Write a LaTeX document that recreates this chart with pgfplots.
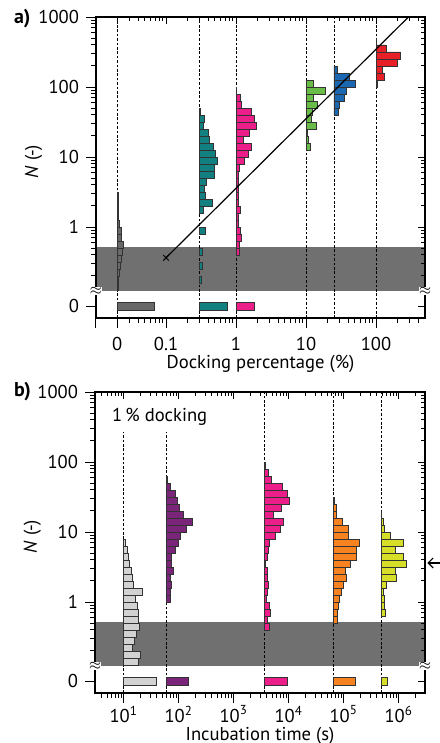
\documentclass[border=0pt]{standalone}
\usepackage{pgfplots}
\pgfplotsset{compat=1.18}
\usepackage{pgfplotstable}
\usepackage{fontspec}
\setmainfont{PT Sans}
\usetikzlibrary{arrows.meta}

\definecolor{bandgray}{RGB}{112,112,112}
\definecolor{cgray}{RGB}{105,105,105}
\definecolor{cteal}{RGB}{18,128,128}
\definecolor{cpink}{RGB}{236,30,138}
\definecolor{cgreen}{RGB}{106,188,72}
\definecolor{cblue}{RGB}{26,104,178}
\definecolor{cred}{RGB}{230,32,38}
\definecolor{clgray}{RGB}{210,210,210}
\definecolor{cpurple}{RGB}{122,36,122}
\definecolor{corange}{RGB}{246,130,32}
\definecolor{cyellow}{RGB}{214,222,40}

% histograms: n = log10(N) bin centre, len = bar length (relative frequency)
\pgfplotstableread{
n len
0.45 1
0.35 1
0.25 1
0.15 1.3
0.05 2.6
-0.05 4.8
-0.15 4
-0.25 6.6
-0.35 5
-0.45 4.2
-0.55 3
-0.65 2
-0.75 1
-0.85 1
}\tGrayA
\pgfplotstableread{
n len
1.65 0.7
1.55 5
1.45 4
1.35 9
1.25 10
1.15 14.3
1.05 15.7
0.95 17.7
0.85 15
0.75 14.8
0.65 6.8
0.55 4.7
0.45 6
0.35 12.8
0.25 4.2
-0.05 5.8
-0.35 3.1
-0.55 3
-0.75 1.8
}\tTealA
\pgfplotstableread{
n len
1.95 0.7
1.85 4.3
1.75 5.5
1.65 15.5
1.55 18
1.45 20.2
1.35 13.5
1.25 7.8
1.15 15.5
1.05 12.5
0.95 8.8
0.85 3.5
0.75 2.8
0.65 2.5
0.55 2
0.45 2.7
0.35 2.7
0.25 4
0.15 2.3
0.05 2
-0.05 4.7
-0.15 5.3
-0.25 3.7
-0.35 3.3
}\tPinkA
\pgfplotstableread{
n len
2.05 7.2
1.95 19.6
1.85 7.2
1.75 11.8
1.65 6.3
1.55 5.5
1.45 10.7
1.35 1.2
1.25 2.2
1.15 4.2
}\tGreenA
\pgfplotstableread{
n len
2.25 3.2
2.15 15.5
2.05 21
1.95 12.2
1.85 10.8
1.75 5.2
1.65 4.3
}\tBlueA
\pgfplotstableread{
n len
2.65 0.7
2.55 10
2.45 24.7
2.35 21.3
2.25 6.2
2.15 8.4
2.05 1.5
}\tRedA
\pgfplotstableread{
n len
0.85 1.5
0.75 3.5
0.65 4.3
0.55 6
0.45 7.7
0.35 9
0.25 9.3
0.15 19
0.05 11.5
-0.05 13.2
-0.15 14.3
-0.25 14.5
-0.35 15.2
-0.45 12.7
-0.55 11
-0.65 9
-0.75 16.8
-0.85 14.2
}\tLGrayB
\pgfplotstableread{
n len
1.75 0.7
1.65 3.8
1.55 8.7
1.45 11
1.35 13
1.25 16.8
1.15 25.5
1.05 19.7
0.95 14.3
0.85 12
0.75 8.8
0.65 5
0.55 5.3
0.45 6.5
0.35 4
0.25 4.5
0.15 4
0.05 3.7
}\tPurpleB
\pgfplotstableread{
n len
1.95 0.7
1.85 4.3
1.75 6.7
1.65 17.7
1.55 22.7
1.45 24.6
1.35 17.3
1.25 9
1.15 19.5
1.05 15.6
0.95 11.3
0.85 4.6
0.75 3.8
0.65 3.5
0.55 0.7
0.45 3.3
0.35 3.3
0.25 4.3
0.15 2.7
0.05 2
-0.05 5
-0.15 6
-0.25 3.3
-0.35 5.3
}\tPinkB
\pgfplotstableread{
n len
1.45 0.7
1.35 2.7
1.25 3.2
1.15 9.3
1.05 15
0.95 15
0.85 26.2
0.75 22.5
0.65 23
0.55 17
0.45 12
0.35 12.5
0.25 9.7
0.15 7.8
0.05 6.2
-0.05 5
-0.15 3.7
-0.25 4.2
}\tOrangeB
\pgfplotstableread{
n len
1.25 0.7
1.15 2.3
1.05 3.2
0.95 9.8
0.85 22.3
0.75 14
0.65 22.2
0.55 25.8
0.45 14
0.35 15
0.25 5.8
0.15 2.4
0.05 3.5
-0.05 3.5
-0.15 4.7
}\tYellowB

\pgfplotsset{
  panelA/.style={scale only axis, width=164.5pt, height=150.5pt, ymin=-1.3, ymax=3, anchor=south west, at={(48pt,-159pt)}},
  panelB/.style={scale only axis, width=165pt, height=150.5pt, ymin=-1.3, ymax=3, anchor=south west, at={(47.5pt,-346.5pt)}},
  hbar/.style={xbar, bar width=0.1, bar shift=0pt, draw=black!80, line width=0.4pt, fill=#1},
  zbar/.style={xbar, bar width=0.105, bar shift=0pt, draw=black!80, line width=0.4pt, fill=#1},
  dline/.style={black, line width=0.4pt, dash pattern=on 1.3pt off 0.9pt},
  yticksall/.style={ytick={-1.135,0,1,2,3},
    minor ytick={-0.699,-0.523,-0.398,-0.301,-0.222,-0.155,-0.097,-0.046,0.301,0.477,0.602,0.699,0.778,0.845,0.903,0.954,1.301,1.477,1.602,1.699,1.778,1.845,1.903,1.954,2.301,2.477,2.602,2.699,2.778,2.845,2.903,2.954}},
  mainstyle/.style={yticksall, xtick pos=left, ytick pos=left, tick align=outside,
    major tick length=5pt, minor tick length=2.5pt,
    every tick/.style={black, line width=0.5pt},
    axis line style={line width=0.6pt},
    tick label style={font=\fontsize{9.3}{11}\selectfont},
    label style={font=\fontsize{9.3}{11}\selectfont, inner sep=0pt},
    yticklabels={0,1,10,100,1000}},
  mirrorstyle/.style={yticksall, xtick pos=right, ytick pos=right, tick align=inside,
    major tick length=3.5pt, minor tick length=2pt,
    every tick/.style={black, line width=0.5pt},
    axis line style={line width=0.6pt},
    xticklabels={}, yticklabels={}, clip=false},
}

\begin{document}
\begin{tikzpicture}
\useasboundingbox (0,0) rectangle (219.5pt,-371.5pt);

% ================= panel a =================
\begin{axis}[panelA, xmode=log, xmin=0.01, xmax=500,
  xtick={0.01,0.02,0.1,1,10,100},
  minor xtick={0.03,0.04,0.05,0.06,0.07,0.08,0.09,0.2,0.3,0.4,0.5,0.6,0.7,0.8,0.9,2,3,4,5,6,7,8,9,20,30,40,50,60,70,80,90,200,300,400},
  mainstyle,
  xticklabels={,0,0.1,1,10,100},
  xticklabel style={inner sep=0pt, yshift=-4.6pt},
  xlabel={Docking percentage (\%)},
  ylabel={\textit{N} (-)},
  xlabel style={at={(axis description cs:0.5,-0.152)}, anchor=center},
  ylabel style={at={(axis description cs:-0.19,0.52)}, anchor=center}]
\addplot[fill=bandgray, draw=none] coordinates {(0.01,-0.914) (500,-0.914) (500,-0.286) (0.01,-0.286)} -- cycle;
\addplot[dline] coordinates {(0.02,-1.3) (0.02,3)};
\addplot[dline] coordinates {(0.3,-1.3) (0.3,3)};
\addplot[dline] coordinates {(1,-1.3) (1,3)};
\addplot[dline] coordinates {(10,-1.3) (10,3)};
\addplot[dline] coordinates {(25,-1.3) (25,3)};
\addplot[dline] coordinates {(100,-1.3) (100,3)};
\end{axis}

\begin{axis}[panelA, hide axis, xmin=-21.07, xmax=307.86]
\addplot[hbar=cgray] table[x=len,y=n] {\tGrayA};
\addplot[zbar=cgray] coordinates {(37.7,-1.135)};
\end{axis}
\begin{axis}[panelA, hide axis, xmin=-103.40, xmax=225.53]
\addplot[hbar=cteal] table[x=len,y=n] {\tTealA};
\addplot[zbar=cteal] coordinates {(27.7,-1.135)};
\end{axis}
\begin{axis}[panelA, hide axis, xmin=-140, xmax=188.93]
\addplot[hbar=cpink] table[x=len,y=n] {\tPinkA};
\addplot[zbar=cpink] coordinates {(18.3,-1.135)};
\end{axis}
\begin{axis}[panelA, hide axis, xmin=-210, xmax=118.93]
\addplot[hbar=cgreen] table[x=len,y=n] {\tGreenA};
\end{axis}
\begin{axis}[panelA, hide axis, xmin=-237.86, xmax=91.07]
\addplot[hbar=cblue] table[x=len,y=n] {\tBlueA};
\end{axis}
\begin{axis}[panelA, hide axis, xmin=-280, xmax=48.93]
\addplot[hbar=cred] table[x=len,y=n] {\tRedA};
\end{axis}

\begin{axis}[panelA, xmode=log, xmin=0.01, xmax=500,
  xtick={0.01,0.02,0.1,1,10,100},
  minor xtick={0.03,0.04,0.05,0.06,0.07,0.08,0.09,0.2,0.3,0.4,0.5,0.6,0.7,0.8,0.9,2,3,4,5,6,7,8,9,20,30,40,50,60,70,80,90,200,300,400},
  mirrorstyle]
\addplot[black, line width=0.6pt] coordinates {(0.1,-0.44) (290,3)};
\addplot[only marks, mark=x, mark size=2pt, black, line width=0.5pt] coordinates {(0.1,-0.44)};
\node[font=\fontsize{7}{7}\selectfont, inner sep=0pt, fill=white] at (rel axis cs:0,0.0898) {$\approx$};
\node[font=\fontsize{7}{7}\selectfont, inner sep=0pt, fill=white] at (rel axis cs:1,0.0898) {$\approx$};
\end{axis}

\node[font=\bfseries\fontsize{10}{12}\selectfont, anchor=west] at (3.5pt,-9.3pt) {a)};

% ================= panel b =================
\begin{axis}[panelB, xmode=log, xmin=3, xmax=3e6,
  xtick={10,100,1000,10000,100000,1000000},
  minor xtick={4,5,6,7,8,9,20,30,40,50,60,70,80,90,200,300,400,500,600,700,800,900,2000,3000,4000,5000,6000,7000,8000,9000,20000,30000,40000,50000,60000,70000,80000,90000,200000,300000,400000,500000,600000,700000,800000,900000,2000000},
  mainstyle,
  xticklabels={10\textsuperscript{1},10\textsuperscript{2},10\textsuperscript{3},10\textsuperscript{4},10\textsuperscript{5},10\textsuperscript{6}},
  xticklabel style={inner sep=0pt, yshift=-1.2pt},
  xlabel={Incubation time (s)},
  ylabel={\textit{N} (-)},
  xlabel style={at={(axis description cs:0.5,-0.142)}, anchor=center},
  ylabel style={at={(axis description cs:-0.19,0.52)}, anchor=center}]
\addplot[fill=bandgray, draw=none] coordinates {(3,-0.914) (3e6,-0.914) (3e6,-0.286) (3,-0.286)} -- cycle;
\addplot[dline] coordinates {(10,-1.3) (10,2.43)};
\addplot[dline] coordinates {(60,-1.3) (60,2.43)};
\addplot[dline] coordinates {(3600,-1.3) (3600,3)};
\addplot[dline] coordinates {(64800,-1.3) (64800,3)};
\addplot[dline] coordinates {(475200,-1.3) (475200,3)};
\end{axis}

\begin{axis}[panelB, hide axis, xmin=-28.76, xmax=301.24]
\addplot[hbar=clgray] table[x=len,y=n] {\tLGrayB};
\addplot[zbar=clgray] coordinates {(32.3,-1.135)};
\end{axis}
\begin{axis}[panelB, hide axis, xmin=-71.56, xmax=258.44]
\addplot[hbar=cpurple] table[x=len,y=n] {\tPurpleB};
\addplot[zbar=cpurple] coordinates {(21.7,-1.135)};
\end{axis}
\begin{axis}[panelB, hide axis, xmin=-169.35, xmax=160.65]
\addplot[hbar=cpink] table[x=len,y=n] {\tPinkB};
\addplot[zbar=cpink] coordinates {(23,-1.135)};
\end{axis}
\begin{axis}[panelB, hide axis, xmin=-238.40, xmax=91.60]
\addplot[hbar=corange] table[x=len,y=n] {\tOrangeB};
\addplot[zbar=corange] coordinates {(22.3,-1.135)};
\end{axis}
\begin{axis}[panelB, hide axis, xmin=-285.99, xmax=44.01]
\addplot[hbar=cyellow] table[x=len,y=n] {\tYellowB};
\addplot[zbar=cyellow] coordinates {(6.7,-1.135)};
\end{axis}

\begin{axis}[panelB, xmode=log, xmin=3, xmax=3e6,
  xtick={10,100,1000,10000,100000,1000000},
  minor xtick={4,5,6,7,8,9,20,30,40,50,60,70,80,90,200,300,400,500,600,700,800,900,2000,3000,4000,5000,6000,7000,8000,9000,20000,30000,40000,50000,60000,70000,80000,90000,200000,300000,400000,500000,600000,700000,800000,900000,2000000},
  mirrorstyle]
\node[font=\fontsize{9.3}{11}\selectfont] at (axis cs:45,2.64) {1\,\% docking};
\node[font=\fontsize{7}{7}\selectfont, inner sep=0pt, fill=white] at (rel axis cs:0,0.0898) {$\approx$};
\node[font=\fontsize{7}{7}\selectfont, inner sep=0pt, fill=white] at (rel axis cs:1,0.0898) {$\approx$};
\draw[-{Straight Barb[length=2.5pt]}, line width=0.6pt] (rel axis cs:1.045,0.432) -- (rel axis cs:1.007,0.432);
\end{axis}

\node[font=\bfseries\fontsize{10}{12}\selectfont, anchor=west] at (3.5pt,-196pt) {b)};
\end{tikzpicture}
\end{document}
